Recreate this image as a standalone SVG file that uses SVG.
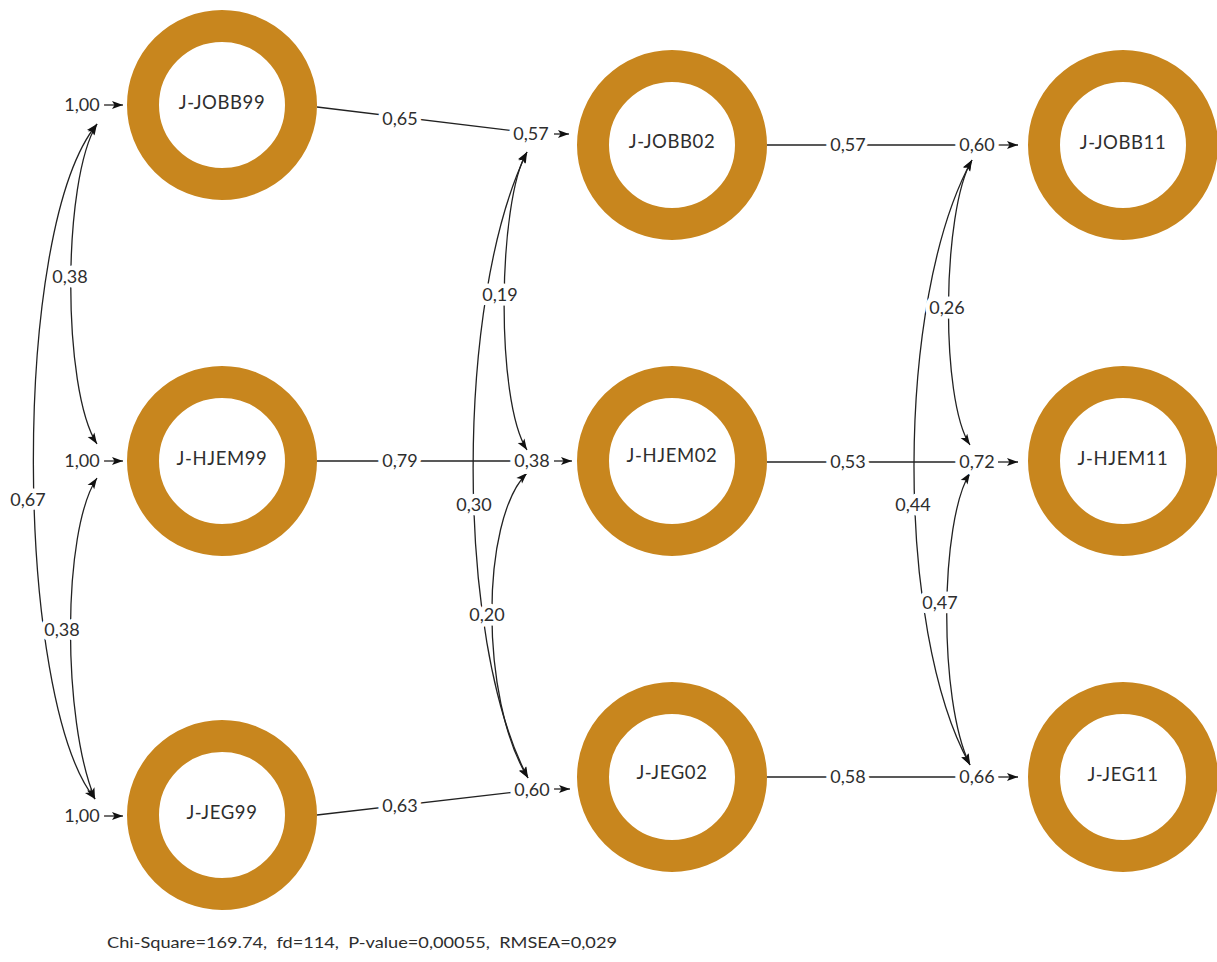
<svg xmlns="http://www.w3.org/2000/svg" width="1217" height="962" viewBox="0 0 1217 962">
<style>
.ring{fill:none;stroke:#C8861E;stroke-width:32}
.nl{font-family:Lato,"Liberation Sans",sans-serif;font-size:18.5px;fill:#2e2e2e;text-anchor:middle;letter-spacing:0.6px}
.el{font-family:Lato,"Liberation Sans",sans-serif;font-size:18px;fill:#2e2e2e;text-anchor:middle;stroke:#fff;stroke-width:9px;paint-order:stroke;stroke-linejoin:round}
.ln{fill:none;stroke:#222;stroke-width:1.3}
.ar{marker-end:url(#ah)}
.dc{marker-start:url(#ah);marker-end:url(#ah)}
.foot{font-family:Lato,"Liberation Sans",sans-serif;font-size:16px;fill:#2e2e2e}
</style>
<defs>
<marker id="ah" markerUnits="userSpaceOnUse" markerWidth="12" markerHeight="9" refX="11" refY="4" orient="auto-start-reverse" overflow="visible">
<path d="M0,0 L11,4 L0,8 L2.5,4 z" fill="#111"/>
</marker>
</defs>
<rect width="1217" height="962" fill="#fff"/>

<g id="connectors">
<!-- error arrows -->
<line class="ln ar" x1="104" y1="105" x2="123" y2="105"/>
<line class="ln ar" x1="104" y1="461" x2="123" y2="461"/>
<line class="ln ar" x1="104" y1="816" x2="123" y2="816"/>
<line class="ln ar" x1="554" y1="134" x2="569" y2="134"/>
<line class="ln ar" x1="554" y1="461" x2="572" y2="461"/>
<line class="ln ar" x1="554" y1="789" x2="570" y2="789"/>
<line class="ln ar" x1="998" y1="145" x2="1018" y2="145"/>
<line class="ln ar" x1="998" y1="462" x2="1018" y2="462"/>
<line class="ln ar" x1="998" y1="777" x2="1018" y2="777"/>
<!-- regression paths -->
<line class="ln" x1="317" y1="107" x2="515" y2="131"/>
<line class="ln" x1="317" y1="461" x2="515" y2="461"/>
<line class="ln" x1="317" y1="815" x2="515" y2="792"/>
<line class="ln" x1="767" y1="145" x2="960" y2="145"/>
<line class="ln" x1="767" y1="462" x2="960" y2="462"/>
<line class="ln" x1="767" y1="777" x2="960" y2="777"/>
<!-- covariances left -->
<path class="ln dc" d="M97,124 C62,180 62,390 97,444"/>
<path class="ln dc" d="M97,124 C10,230 15,700 95,799"/>
<path class="ln dc" d="M97,478 C62,530 62,720 95,799"/>
<!-- covariances middle -->
<path class="ln dc" d="M527,152 C498,200 495,400 527,450"/>
<path class="ln dc" d="M527,152 C455,300 455,640 528,778"/>
<path class="ln dc" d="M527,473 C480,520 480,700 528,778"/>
<!-- covariances right -->
<path class="ln dc" d="M972,160 C942,210 940,400 970,445"/>
<path class="ln dc" d="M972,160 C895,300 895,630 970,765"/>
<path class="ln dc" d="M970,473 C940,520 938,700 970,765"/>
<!-- labels -->
<text class="el" x="82" y="111">1,00</text>
<text class="el" x="82" y="467">1,00</text>
<text class="el" x="82" y="822">1,00</text>
<text class="el" x="70" y="283">0,38</text>
<text class="el" x="28" y="506">0,67</text>
<text class="el" x="62" y="636">0,38</text>
<text class="el" x="400" y="125">0,65</text>
<text class="el" x="400" y="467">0,79</text>
<text class="el" x="400" y="812">0,63</text>
<text class="el" x="531" y="140">0,57</text>
<text class="el" x="532" y="467">0,38</text>
<text class="el" x="532" y="796">0,60</text>
<text class="el" x="500" y="301">0,19</text>
<text class="el" x="474" y="511">0,30</text>
<text class="el" x="487" y="621">0,20</text>
<text class="el" x="848" y="151">0,57</text>
<text class="el" x="848" y="468">0,53</text>
<text class="el" x="848" y="783">0,58</text>
<text class="el" x="977" y="151">0,60</text>
<text class="el" x="977" y="468">0,72</text>
<text class="el" x="977" y="783">0,66</text>
<text class="el" x="947" y="314">0,26</text>
<text class="el" x="913" y="511">0,44</text>
<text class="el" x="940" y="609">0,47</text>
</g>

<g id="n-jobb99"><circle class="ring" cx="222" cy="105" r="79"/><text class="nl" x="222" y="109">J-JOBB99</text></g>
<g id="n-hjem99"><circle class="ring" cx="222" cy="461" r="79"/><text class="nl" x="222" y="465">J-HJEM99</text></g>
<g id="n-jeg99"><circle class="ring" cx="222" cy="815" r="79"/><text class="nl" x="222" y="819">J-JEG99</text></g>
<g id="n-jobb02"><circle class="ring" cx="672" cy="145" r="79"/><text class="nl" x="672" y="148">J-JOBB02</text></g>
<g id="n-hjem02"><circle class="ring" cx="672" cy="461" r="79"/><text class="nl" x="672" y="462">J-HJEM02</text></g>
<g id="n-jeg02"><circle class="ring" cx="672" cy="777" r="79"/><text class="nl" x="672" y="779">J-JEG02</text></g>
<g id="n-jobb11"><circle class="ring" cx="1123" cy="145" r="79"/><text class="nl" x="1123" y="149">J-JOBB11</text></g>
<g id="n-hjem11"><circle class="ring" cx="1123" cy="461" r="79"/><text class="nl" x="1123" y="465">J-HJEM11</text></g>
<g id="n-jeg11"><circle class="ring" cx="1123" cy="777" r="79"/><text class="nl" x="1123" y="781">J-JEG11</text></g>

<text class="foot" x="107" y="948" textLength="510" lengthAdjust="spacingAndGlyphs" xml:space="preserve">Chi-Square=169.74,  fd=114,  P-value=0,00055,  RMSEA=0,029</text>
</svg>
